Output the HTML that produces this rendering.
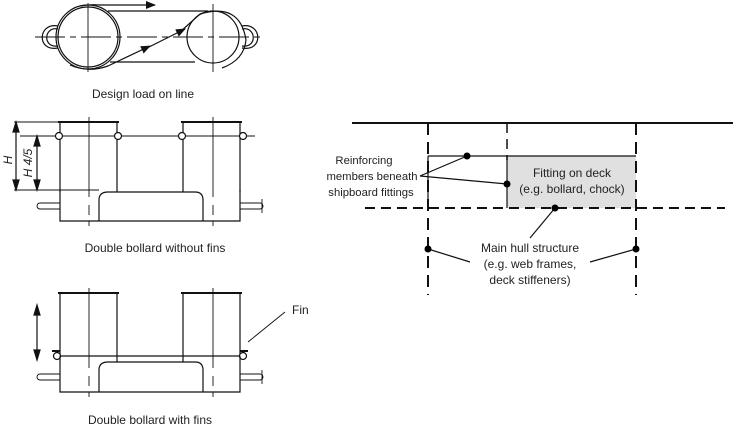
<!DOCTYPE html>
<html><head><meta charset="utf-8"><style>
html,body{margin:0;padding:0;background:#fff;}
svg{display:block;}
text{font-family:"Liberation Sans",sans-serif;fill:#222;}
</style></head><body>
<svg width="736" height="429" viewBox="0 0 736 429" xmlns="http://www.w3.org/2000/svg">
<defs>
<marker id="ah" markerWidth="10" markerHeight="8" refX="9" refY="4" orient="auto" markerUnits="userSpaceOnUse"><path d="M0,0 L10,4 L0,8 z" fill="#111"/></marker>
</defs>
<g stroke="#111" fill="none" stroke-width="1.2">
<!-- Design load -->
<line x1="35" y1="37" x2="265" y2="37" stroke-dasharray="30,5,6,5" stroke-width="1"/>
<line x1="88" y1="3" x2="88" y2="72" stroke-width="0.9"/>
<line x1="213" y1="4" x2="213" y2="72" stroke-width="0.9"/>
<circle cx="88" cy="37" r="30"/>
<circle cx="88" cy="37" r="32"/>
<circle cx="213" cy="37" r="26"/>
<path d="M58,26 C38,22 36,52 58,48"/><path d="M58,29 C44,26 42,48 58,46"/>
<path d="M242,26 C262,22 264,52 242,48"/><path d="M242,29 C256,26 258,48 242,46"/>
<path d="M80,6 Q90,4 100,5 L155,5" marker-end="url(#ah)"/>
<line x1="108" y1="11" x2="208" y2="11"/>
<line x1="110" y1="62" x2="195" y2="62"/>
<path d="M70,65 Q88,73 108,66 L150,46" marker-end="url(#ah)"/>
<path d="M145,49 L185,29" marker-end="url(#ah)"/>
<path d="M180,32 L200,14 Q240,2 246,40 Q244,60 222,68"/>
<!-- Bollard without fins -->
<path d="M60,192 V122 H117 V192"/>
<path d="M183,192 V122 H240 V192"/>
<line x1="58" y1="122" x2="119" y2="122" stroke-width="2"/>
<line x1="181" y1="122" x2="242" y2="122" stroke-width="2"/>
<line x1="20" y1="136" x2="255" y2="136" stroke-width="1"/>
<circle cx="59" cy="136" r="3.5" fill="#fff"/><circle cx="118" cy="136" r="3.5" fill="#fff"/>
<circle cx="182" cy="136" r="3.5" fill="#fff"/><circle cx="243" cy="136" r="3.5" fill="#fff"/>
<path d="M60,190 V221 H240 V190"/>
<path d="M99,221 L99,200 Q99,192 108,192 L195,192 Q203,192 203,200 L203,221"/>
<line x1="89" y1="117" x2="89" y2="226" stroke-width="0.9" stroke-dasharray="80,8,10,6"/>
<line x1="213" y1="117" x2="213" y2="226" stroke-width="0.9" stroke-dasharray="80,8,10,6"/>
<line x1="14" y1="122" x2="60" y2="122" stroke-width="0.9"/>
<line x1="14" y1="190" x2="99" y2="190" stroke-width="0.9"/>
<line x1="16" y1="124" x2="16" y2="188"/><path d="M16,122 l-3,10 h6z M16,190 l-3,-10 h6z" fill="#111"/>
<line x1="37" y1="138" x2="37" y2="188"/><path d="M37,136 l-3,10 h6z M37,190 l-3,-10 h6z" fill="#111"/>
<path d="M40,203 h20 M40,209 h20 M40,203 a3,3 0 0,0 0,6" stroke-width="0.9"/>
<path d="M240,203 h20 M240,209 h20 M260,203 a3,3 0 0,1 0,6 M262,199 v14" stroke-width="0.9"/>
<!-- Bollard with fins -->
<path d="M60,356 V293 H117 V362"/>
<path d="M183,362 V293 H240 V356"/>
<line x1="58" y1="293" x2="119" y2="293" stroke-width="2"/>
<line x1="181" y1="293" x2="242" y2="293" stroke-width="2"/>
<line x1="60" y1="356" x2="240" y2="356"/>
<line x1="52" y1="351" x2="60" y2="351" stroke-width="2"/><circle cx="57" cy="356" r="3.5" fill="#fff"/>
<line x1="240" y1="351" x2="248" y2="351" stroke-width="2"/><circle cx="243" cy="356" r="3.5" fill="#fff"/>
<path d="M60,356 V392 H240 V356"/>
<path d="M99,392 L99,370 Q99,362 108,362 L195,362 Q203,362 203,370 L203,392"/>
<line x1="89" y1="288" x2="89" y2="397" stroke-width="0.9" stroke-dasharray="80,8,10,6"/>
<line x1="213" y1="288" x2="213" y2="397" stroke-width="0.9" stroke-dasharray="80,8,10,6"/>
<line x1="37" y1="308" x2="37" y2="357"/><path d="M37,305 l-3,10 h6z M37,360 l-3,-10 h6z" fill="#111"/>
<path d="M40,374 h20 M40,380 h20 M40,374 a3,3 0 0,0 0,6" stroke-width="0.9"/>
<path d="M240,374 h20 M240,380 h20 M260,374 a3,3 0 0,1 0,6 M262,370 v14" stroke-width="0.9"/>
<line x1="285" y1="312" x2="248" y2="342" stroke-width="0.9"/>
<!-- Right diagram -->
<rect x="507" y="156" width="129" height="52" fill="#e0e0e0" stroke="none"/>
<line x1="352" y1="123" x2="733" y2="123" stroke-width="2"/>
<line x1="428" y1="156" x2="636" y2="156" stroke-width="1.2"/>
<line x1="428" y1="156" x2="428" y2="208"/>
<line x1="507" y1="156" x2="507" y2="208"/>
<line x1="365" y1="208" x2="725" y2="208" stroke-width="2" stroke-dasharray="10,6"/>
<line x1="428" y1="123" x2="428" y2="295" stroke-width="2" stroke-dasharray="12,7"/>
<line x1="507" y1="123" x2="507" y2="160" stroke-width="1.5" stroke-dasharray="10,6"/>
<line x1="636" y1="123" x2="636" y2="295" stroke-width="2" stroke-dasharray="12,7"/>
<line x1="420" y1="176" x2="467" y2="156"/>
<line x1="420" y1="176" x2="507" y2="184"/>
<line x1="555" y1="208" x2="530" y2="238"/>
<line x1="428" y1="249" x2="470" y2="262"/>
<line x1="636" y1="249" x2="590" y2="262"/>
</g>
<g fill="#000">
<circle cx="467" cy="156" r="3.5"/><circle cx="507" cy="184" r="3.5"/><circle cx="555" cy="208" r="3.5"/>
<circle cx="428" cy="249" r="3.5"/><circle cx="636" cy="249" r="3.5"/>
</g>
<g font-size="12">
<text x="143" y="98" text-anchor="middle">Design load on line</text>
<text x="155" y="252" text-anchor="middle">Double bollard without fins</text>
<text x="150" y="424" text-anchor="middle">Double bollard with fins</text>
<text x="292" y="314">Fin</text>
<g font-size="11.3">
<text x="364" y="164" text-anchor="middle">Reinforcing</text>
<text x="372" y="180" text-anchor="middle">members beneath</text>
<text x="371" y="196" text-anchor="middle">shipboard fittings</text>
</g>
<text x="572" y="177" text-anchor="middle">Fitting on deck</text>
<text x="572" y="193" text-anchor="middle">(e.g. bollard, chock)</text>
<text x="530" y="252" text-anchor="middle">Main hull structure</text>
<text x="530" y="268" text-anchor="middle">(e.g. web frames,</text>
<text x="530" y="284" text-anchor="middle">deck stiffeners)</text>
<text transform="translate(12,160) rotate(-90)" text-anchor="middle" font-style="italic">H</text>
<text transform="translate(32,163) rotate(-90)" text-anchor="middle" font-style="italic">H 4/5</text>
</g>
</svg>
</body></html>
